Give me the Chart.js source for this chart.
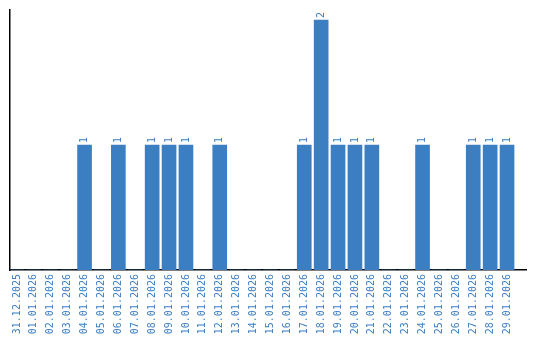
<!DOCTYPE html>
<html>
<head>
<meta charset="utf-8">
<script src="https://cdn.jsdelivr.net/npm/chart.js@4/dist/chart.umd.min.js"></script>
<style>
html,body{margin:0;padding:0;background:#fff;}
#wrap{width:540px;height:340px;position:relative;}
</style>
</head>
<body>
<div id="wrap"><canvas id="c" width="540" height="340"></canvas></div>
<script>
const categories = ["31.12.2025","01.01.2026","02.01.2026","03.01.2026","04.01.2026","05.01.2026","06.01.2026","07.01.2026","08.01.2026","09.01.2026","10.01.2026","11.01.2026","12.01.2026","13.01.2026","14.01.2026","15.01.2026","16.01.2026","17.01.2026","18.01.2026","19.01.2026","20.01.2026","21.01.2026","22.01.2026","23.01.2026","24.01.2026","25.01.2026","26.01.2026","27.01.2026","28.01.2026","29.01.2026"];
const counts = [0,0,0,0,1,0,1,0,1,1,1,0,1,0,0,0,0,1,2,1,1,1,0,0,1,0,0,1,1,1];

const BLUE = 'rgb(59,126,194)';
const FONT = '"DejaVu Sans Mono", "Liberation Mono", monospace';

const valueLabels = {
  id: 'valueLabels',
  afterDatasetsDraw(chart) {
    const ctx = chart.ctx;
    const meta = chart.getDatasetMeta(0);
    ctx.save();
    ctx.fillStyle = BLUE;
    ctx.font = '10px ' + FONT;
    ctx.textAlign = 'left';
    ctx.textBaseline = 'middle';
    meta.data.forEach((el, i) => {
      const v = counts[i];
      if (!v) return;
      ctx.save();
      ctx.translate(el.x, el.y - 2);
      ctx.rotate(-Math.PI / 2);
      ctx.fillText(String(v), 0, 0);
      ctx.restore();
    });
    ctx.restore();
  }
};

new Chart(document.getElementById('c'), {
  type: 'bar',
  data: {
    datasets: [{
      data: counts.map((v, i) => ({x: i, y: v})),
      backgroundColor: BLUE,
      borderWidth: 0,
      barThickness: 14
    }]
  },
  options: {
    responsive: false,
    animation: false,
    layout: {padding: {left: 10, right: 10, top: 10, bottom: 0}},
    plugins: {legend: {display: false}, tooltip: {enabled: false}},
    scales: {
      x: {
        type: 'linear',
        offset: false,
        min: -7/17,
        max: 513/17,
        grid: {display: false, drawTicks: false},
        border: {display: true, color: '#000', width: 1.5},
        ticks: {
          stepSize: 1,
          includeBounds: false,
          autoSkip: false,
          minRotation: 90,
          maxRotation: 90,
          padding: 4,
          color: BLUE,
          font: {family: FONT, size: 10},
          callback: (v) => (Number.isInteger(v) && categories[v]) ? categories[v] : ''
        },
        afterFit(scale) { scale.height = 70; }
      },
      y: {
        min: 0,
        max: 2.08,
        grid: {display: false, drawTicks: false},
        border: {display: true, color: '#000', width: 1.5},
        ticks: {display: false},
        afterFit(scale) { scale.width = 0; }
      }
    }
  },
  plugins: [valueLabels]
});
</script>
</body>
</html>
